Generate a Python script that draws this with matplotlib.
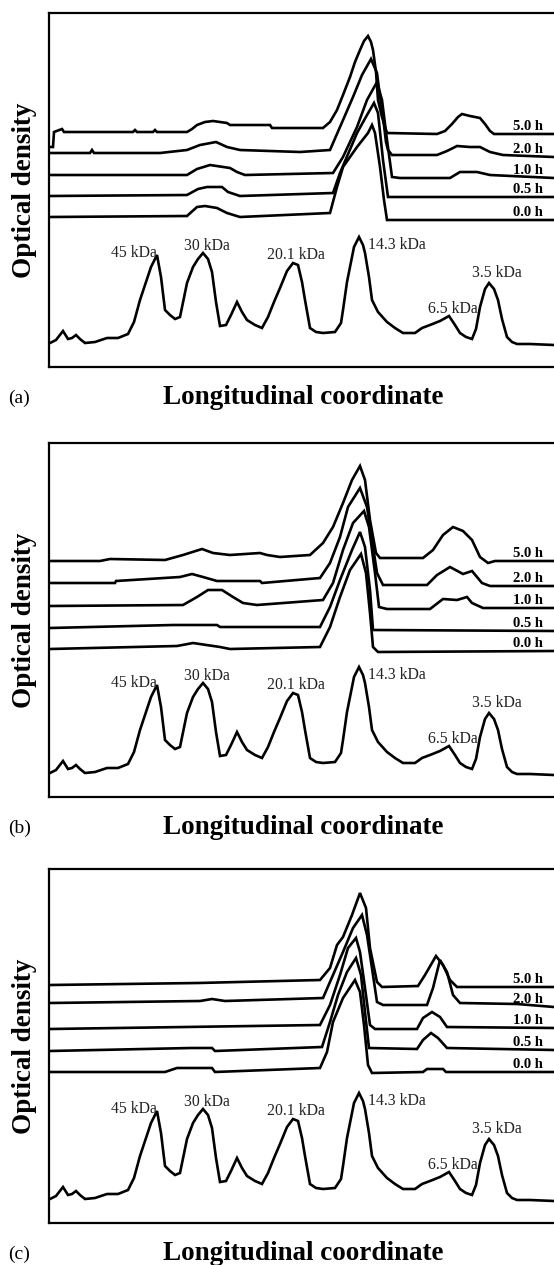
import matplotlib
matplotlib.use("Agg")
import matplotlib.pyplot as plt

plt.rcParams['font.family'] = ['Liberation Serif', 'DejaVu Serif']

# --- data (longitudinal coordinate, optical density, arbitrary units) ---
marker = [(50, 24), (56, 27), (63, 36), (68, 28), (72, 29), (76, 32), (80, 28), (85, 24),
          (95, 25), (107, 29), (118, 29), (128, 33), (134, 45), (140, 67), (146, 85),
          (151, 100), (157, 112), (161, 90), (165, 57), (170, 52), (175, 48), (180, 50),
          (187, 84), (193, 100), (198, 108), (203, 114), (208, 108), (212, 95), (216, 65),
          (220, 41), (226, 42), (231, 52), (237, 65), (242, 55), (247, 47), (255, 42),
          (262, 39), (268, 50), (274, 65), (280, 79), (287, 96), (293, 104), (298, 102),
          (302, 85), (305, 67), (310, 39), (316, 35), (323, 34), (335, 35), (341, 44),
          (343, 57), (347, 85), (350, 100), (354, 120), (359, 130), (363, 122), (365, 114),
          (369, 90), (372, 67), (378, 55), (387, 45), (395, 39), (403, 34), (415, 34),
          (422, 39), (430, 42), (440, 46), (449, 51), (455, 42), (460, 34), (466, 30),
          (472, 28), (476, 38), (480, 60), (485, 78), (489, 84), (494, 78), (498, 67),
          (502, 48), (507, 30), (512, 25), (517, 23), (530, 23), (554, 22)]

marker_labels = ['45 kDa', '30 kDa', '20.1 kDa', '14.3 kDa', '6.5 kDa', '3.5 kDa']
times = ['5.0 h', '2.0 h', '1.0 h', '0.5 h', '0.0 h']

# panel (a)
a_50 = [(51, 220), (53, 220), (54, 235), (62, 238), (64, 235), (133, 235), (135, 237),
        (137, 235), (153, 235), (155, 237), (157, 235), (187, 235), (192, 238), (197, 242),
        (205, 245), (213, 246), (227, 244), (230, 242), (270, 242), (272, 239), (323, 239),
        (330, 245), (337, 257), (343, 272), (350, 290), (355, 305), (360, 317), (364, 326),
        (368, 331), (371, 325), (373, 317), (376, 295), (378, 267), (382, 250), (385, 240),
        (387, 234), (437, 233), (445, 236), (452, 243), (458, 250), (462, 253), (470, 251),
        (480, 249), (485, 243), (490, 236), (494, 233), (554, 233)]
a_20 = [(50, 214), (90, 214), (92, 217), (94, 214), (160, 214), (187, 217), (200, 222),
        (216, 225), (227, 220), (240, 217), (300, 215), (330, 217), (340, 240), (353, 270),
        (362, 292), (371, 308), (377, 294), (380, 270), (383, 250), (386, 225), (388, 217),
        (392, 212), (437, 212), (447, 216), (457, 221), (470, 220), (480, 220), (490, 215),
        (503, 212), (554, 210)]
a_10 = [(50, 192), (187, 192), (197, 198), (210, 202), (230, 199), (237, 195), (245, 192),
        (333, 194), (343, 210), (357, 240), (367, 267), (377, 285), (382, 267), (387, 227),
        (392, 190), (400, 189), (450, 189), (460, 195), (477, 195), (490, 192), (554, 189)]
a_05 = [(50, 171), (187, 172), (198, 178), (207, 180), (222, 180), (228, 175), (240, 171),
        (333, 174), (340, 194), (357, 234), (367, 252), (374, 264), (378, 254), (383, 207),
        (388, 170), (554, 170)]
a_00 = [(50, 150), (187, 151), (197, 160), (205, 161), (217, 159), (227, 154), (240, 150),
        (330, 154), (337, 180), (343, 200), (357, 220), (368, 234), (372, 242), (375, 234),
        (380, 200), (384, 167), (387, 147), (554, 147)]

# panel (b)
b_50 = [(50, 236), (100, 236), (110, 238), (165, 237), (183, 242), (202, 248), (213, 244),
        (230, 242), (260, 244), (267, 242), (280, 240), (310, 242), (323, 254), (333, 270),
        (343, 294), (352, 317), (360, 331), (365, 317), (370, 277), (376, 244), (380, 239),
        (423, 239), (433, 247), (443, 262), (453, 270), (463, 266), (472, 257), (480, 240),
        (488, 234), (495, 236), (554, 236)]
b_20 = [(50, 214), (115, 214), (116, 216), (180, 220), (192, 223), (203, 220), (217, 216),
        (260, 216), (262, 214), (320, 219), (330, 234), (340, 260), (348, 290), (360, 309),
        (367, 290), (372, 257), (377, 224), (383, 212), (427, 212), (437, 222), (450, 230),
        (463, 223), (472, 226), (482, 214), (490, 211), (554, 211)]
b_10 = [(50, 191), (183, 192), (197, 200), (208, 207), (222, 207), (233, 200), (243, 194),
        (257, 192), (323, 197), (333, 214), (343, 247), (353, 274), (364, 286), (369, 270),
        (375, 224), (379, 190), (387, 188), (430, 188), (443, 198), (457, 197), (467, 200),
        (472, 194), (483, 189), (554, 189)]
b_05 = [(50, 169), (173, 172), (217, 172), (220, 170), (320, 170), (330, 190), (340, 217),
        (352, 247), (360, 265), (365, 250), (370, 207), (373, 167), (554, 166)]
b_00 = [(50, 148), (177, 151), (193, 154), (220, 150), (230, 148), (320, 150), (330, 170),
        (340, 200), (350, 227), (361, 243), (366, 224), (370, 184), (373, 150), (378, 145),
        (554, 146)]

# panel (c)
c_50 = [(50, 238), (198, 240), (320, 243), (330, 255), (337, 278), (343, 286), (352, 308),
        (360, 330), (366, 315), (370, 275), (377, 241), (382, 236), (418, 237), (425, 248),
        (436, 267), (443, 258), (450, 243), (457, 236), (554, 236)]
c_20 = [(50, 220), (200, 222), (212, 224), (225, 222), (323, 225), (333, 248), (343, 271),
        (353, 295), (362, 308), (367, 288), (373, 248), (377, 221), (383, 218), (427, 218),
        (433, 235), (440, 263), (447, 251), (453, 228), (460, 220), (517, 219), (554, 216)]
c_10 = [(50, 194), (320, 198), (330, 218), (340, 248), (348, 275), (356, 285), (360, 271),
        (365, 235), (370, 198), (375, 194), (417, 194), (423, 205), (432, 211), (440, 206),
        (447, 196), (554, 195)]
c_05 = [(50, 172), (191, 175), (212, 175), (215, 172), (322, 176), (330, 201), (338, 228),
        (347, 251), (356, 265), (361, 248), (365, 211), (369, 175), (417, 174), (423, 183),
        (431, 190), (438, 185), (447, 175), (554, 173)]
c_00 = [(50, 151), (165, 151), (177, 155), (212, 155), (215, 151), (320, 155), (327, 171),
        (333, 201), (343, 225), (355, 243), (360, 231), (364, 198), (368, 158), (372, 150),
        (423, 151), (427, 154), (443, 154), (446, 151), (554, 151)]

panels = [('(a)', [a_50, a_20, a_10, a_05, a_00]),
          ('(b)', [b_50, b_20, b_10, b_05, b_00]),
          ('(c)', [c_50, c_20, c_10, c_05, c_00])]

W, H = 554, 1265
fig = plt.figure(figsize=(W / 100, H / 100), dpi=100)

tops = [13, 443, 869]
ph = 354

for (tag, traces), top in zip(panels, tops):
    ax = fig.add_axes([49 / W, 1 - (top + ph) / H, (W - 49) / W, ph / H])
    ax.set_xlim(49, 554)
    ax.set_ylim(0, 354)
    ax.set_xticks([])
    ax.set_yticks([])
    ax.spines['right'].set_visible(False)
    for s in ['left', 'top', 'bottom']:
        ax.spines[s].set_linewidth(1.6)

    mx, my = zip(*marker)
    ax.plot(mx, my, color='black', lw=1.9, solid_joinstyle='miter')
    for tr in traces:
        tx, ty = zip(*tr)
        ax.plot(tx, ty, color='black', lw=1.9, solid_joinstyle='miter')

    for tr, t in zip(traces, times):
        ax.text(543, tr[-1][1] + 1, t, ha='right', va='bottom',
                fontsize=10.5, fontweight='bold')

    # marker labels
    kw = dict(fontsize=11.3, color='#222222', va='center')
    ax.text(157, 114, marker_labels[0], ha='right', **kw)
    ax.text(207, 121, marker_labels[1], ha='center', **kw)
    ax.text(296, 112, marker_labels[2], ha='center', **kw)
    ax.text(368, 122, marker_labels[3], ha='left', **kw)
    ax.text(453, 58, marker_labels[4], ha='center', **kw)
    ax.text(497, 94, marker_labels[5], ha='center', **kw)

    yb = top + ph + 31
    fig.text(8 / W, 1 - yb / H, tag, ha='left', va='center', fontsize=14)
    fig.text(303 / W, 1 - yb / H, 'Longitudinal coordinate', ha='center', va='center',
             fontsize=19.5, fontweight='bold')
    fig.text(25 / W, 1 - (top + ph / 2) / H, 'Optical density', rotation=90,
             ha='center', va='center', fontsize=19.5, fontweight='bold')

fig.savefig('out.png', dpi=100)
